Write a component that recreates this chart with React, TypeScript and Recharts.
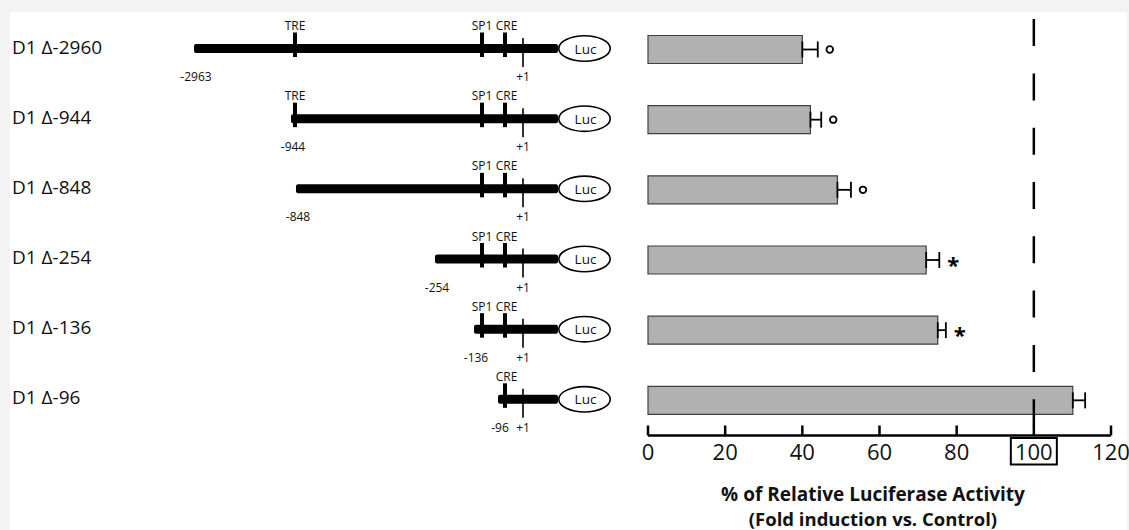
import React from 'react';
import { ComposedChart, Bar, XAxis, YAxis, ErrorBar, LabelList, ReferenceLine } from 'recharts';

// ---- data ----
const constructs = ['D1 Δ-2960', 'D1 Δ-944', 'D1 Δ-848', 'D1 Δ-254', 'D1 Δ-136', 'D1 Δ-96'];
const startLabels = ['-2963', '-944', '-848', '-254', '-136', '-96'];
// schematic map coordinates (arbitrary diagram units, +1 = 0)
const startMapPos = [-329, -232, -227, -88, -49, -25];
const elementNames = ['TRE', 'SP1', 'CRE'];
const elementMapPos = [-228, -41, -18];
const elementsPerConstruct = [
  ['TRE', 'SP1', 'CRE'],
  ['TRE', 'SP1', 'CRE'],
  ['SP1', 'CRE'],
  ['SP1', 'CRE'],
  ['SP1', 'CRE'],
  ['CRE'],
];
const tssMapPos = 0;
const lucMapStart = 35;
const lucMapEnd = 88;

const activity = [40, 42.1, 49.1, 72.1, 75.1, 110.1];
const activityErr = [4, 2.8, 3.5, 3.4, 2.1, 3.2];
const significance = ['o', 'o', 'o', '*', '*', ''];
const xTicks = [0, 20, 40, 60, 80, 100, 120];
const referenceValue = 100;

const diagramData = constructs.map((name, i) => ({ name, i, span: [startMapPos[i], lucMapEnd] }));
const barData = constructs.map((name, i) => ({
  name,
  i,
  activity: activity[i],
  err: [0, activityErr[i]],
  sig: significance[i],
}));

const FONT = "'Open Sans', 'Noto Sans', sans-serif";

function RowLabel(props: any) {
  const { x, y, payload } = props;
  return (
    <text x={x - 138} y={y + 4} textAnchor="start" fontSize={19} fontFamily={FONT} fill="#111">
      {payload.value}
    </text>
  );
}

function ConstructShape(props: any) {
  const { x, y, width, height, payload } = props;
  const i = payload.i;
  const start = startMapPos[i];
  const k = width / (lucMapEnd - start);
  const px = (v: number) => x + (v - start) * k;
  const cy = y + height / 2 - 1.5;
  const lucL = px(lucMapStart);
  const lucR = px(lucMapEnd);
  const lucCx = (lucL + lucR) / 2;
  const elems = elementsPerConstruct[i];
  return (
    <g>
      <rect x={px(start)} y={cy - 4.5} width={lucL - px(start)} height={9} rx={2} fill="#000" />
      {elems.map((e) => {
        const ex = px(elementMapPos[elementNames.indexOf(e)]);
        return (
          <g key={e}>
            <rect x={ex - 2} y={cy - 16} width={4} height={24.5} fill="#000" />
            <text x={ex + (e === 'CRE' ? 1.5 : 0)} y={cy - 18.5} textAnchor="middle" fontSize={12} fontFamily={FONT} fill="#111">
              {e}
            </text>
          </g>
        );
      })}
      <line x1={px(tssMapPos)} x2={px(tssMapPos)} y1={cy - 10.5} y2={cy + 18.5} stroke="#000" strokeWidth={1.6} />
      <text x={px(tssMapPos)} y={cy + 32.5} textAnchor="middle" fontSize={12} fontFamily={FONT} fill="#111">
        +1
      </text>
      <text x={px(start) + 2} y={cy + 32.5} textAnchor="middle" fontSize={12} fontFamily={FONT} fill="#111">
        {startLabels[i]}
      </text>
      <ellipse cx={lucCx} cy={cy} rx={(lucR - lucL) / 2 - 0.8} ry={12.7} fill="#fff" stroke="#000" strokeWidth={1.6} />
      <text x={lucCx + 1} y={cy + 5} textAnchor="middle" fontSize={13.5} fontFamily={FONT} fill="#111">
        Luc
      </text>
    </g>
  );
}

function XTick(props: any) {
  const { x, y, payload } = props;
  const v = payload.value;
  return (
    <g>
      <line x1={x} x2={x} y1={y} y2={y - 10} stroke="#000" strokeWidth={2.5} />
      {v === referenceValue && (
        <rect x={x - 23} y={y + 2.5} width={46} height={26.5} fill="none" stroke="#000" strokeWidth={2} />
      )}
      <text x={x} y={y + 24} textAnchor="middle" fontSize={22} fontFamily={FONT} fill="#111">
        {v}
      </text>
    </g>
  );
}

function AxisTitle(props: any) {
  const vb = props.viewBox || {};
  const cx = vb.x + vb.width / 2 - 6.5;
  return (
    <g>
      <text x={cx} y={vb.y + 65.5} textAnchor="middle" fontSize={19} fontWeight={700} fontFamily={FONT} fill="#111">
        % of Relative Luciferase Activity
      </text>
      <text x={cx} y={vb.y + 90.5} textAnchor="middle" fontSize={18.5} fontWeight={700} fontFamily={FONT} fill="#111">
        (Fold induction vs. Control)
      </text>
    </g>
  );
}

function SigMarker(props: any) {
  const vb = props.viewBox || props;
  const idx = props.index;
  const { x, y, width, height } = vb;
  const d = barData[idx];
  if (!d || !d.sig) return null;
  const capX = x + (width * (d.activity + activityErr[idx])) / d.activity;
  const cy = y + height / 2;
  if (d.sig === 'o') {
    return <circle cx={capX + 12} cy={cy} r={3.3} fill="none" stroke="#000" strokeWidth={1.8} />;
  }
  return (
    <text x={capX + 14} y={cy + 12.5} textAnchor="middle" fontSize={22} fontWeight={700} fontFamily={FONT} fill="#000">
      *
    </text>
  );
}

export default function App() {
  return (
    <div style={{ position: 'absolute', left: 0, top: 0, width: 1129, height: 530, background: '#f3f3f3', overflow: 'hidden' }}>
      <div style={{ position: 'absolute', left: 10, top: 12, width: 1117, height: 518, background: '#fff' }} />
      <div style={{ position: 'absolute', left: 0, top: 0 }}>
        <ComposedChart
          layout="vertical"
          width={640}
          height={530}
          data={diagramData}
          margin={{ top: 14.5, right: 10, bottom: 94.5, left: 0 }}
        >
          <XAxis type="number" domain={[-373, 107]} allowDataOverflow hide />
          <YAxis
            type="category"
            dataKey="name"
            width={150}
            axisLine={false}
            tickLine={false}
            tickSize={0}
            tickMargin={0}
            interval={0}
            tick={<RowLabel />}
          />
          <Bar dataKey="span" barSize={9} shape={ConstructShape} isAnimationActive={false} />
        </ComposedChart>
      </div>
      <div style={{ position: 'absolute', left: 0, top: 0 }}>
        <ComposedChart
          layout="vertical"
          width={1129}
          height={530}
          data={barData}
          margin={{ top: 14.5, right: 18, bottom: 0, left: 648 }}
        >
          <XAxis
            type="number"
            domain={[0, 120]}
            ticks={xTicks}
            interval={0}
            height={94.5}
            axisLine={{ stroke: '#000', strokeWidth: 2.5 }}
            tickLine={false}
            tickSize={0}
            tickMargin={0}
            tick={<XTick />}
            label={<AxisTitle />}
          />
          <YAxis
            type="category"
            dataKey="name"
            width={0}
            tick={false}
            tickLine={false}
            axisLine={{ stroke: '#000', strokeWidth: 2.5 }}
          />
          <Bar dataKey="activity" barSize={28} fill="#b1b1b1" stroke="#404040" strokeWidth={1.2} isAnimationActive={false}>
            <ErrorBar dataKey="err" direction="x" width={8} stroke="#000" strokeWidth={1.8} />
            <LabelList dataKey="sig" content={<SigMarker />} />
          </Bar>
          <ReferenceLine
            x={referenceValue}
            stroke="#000"
            strokeWidth={2.5}
            strokeDasharray="27 27.3"
            strokeDashoffset={45}
          />
        </ComposedChart>
      </div>
    </div>
  );
}
